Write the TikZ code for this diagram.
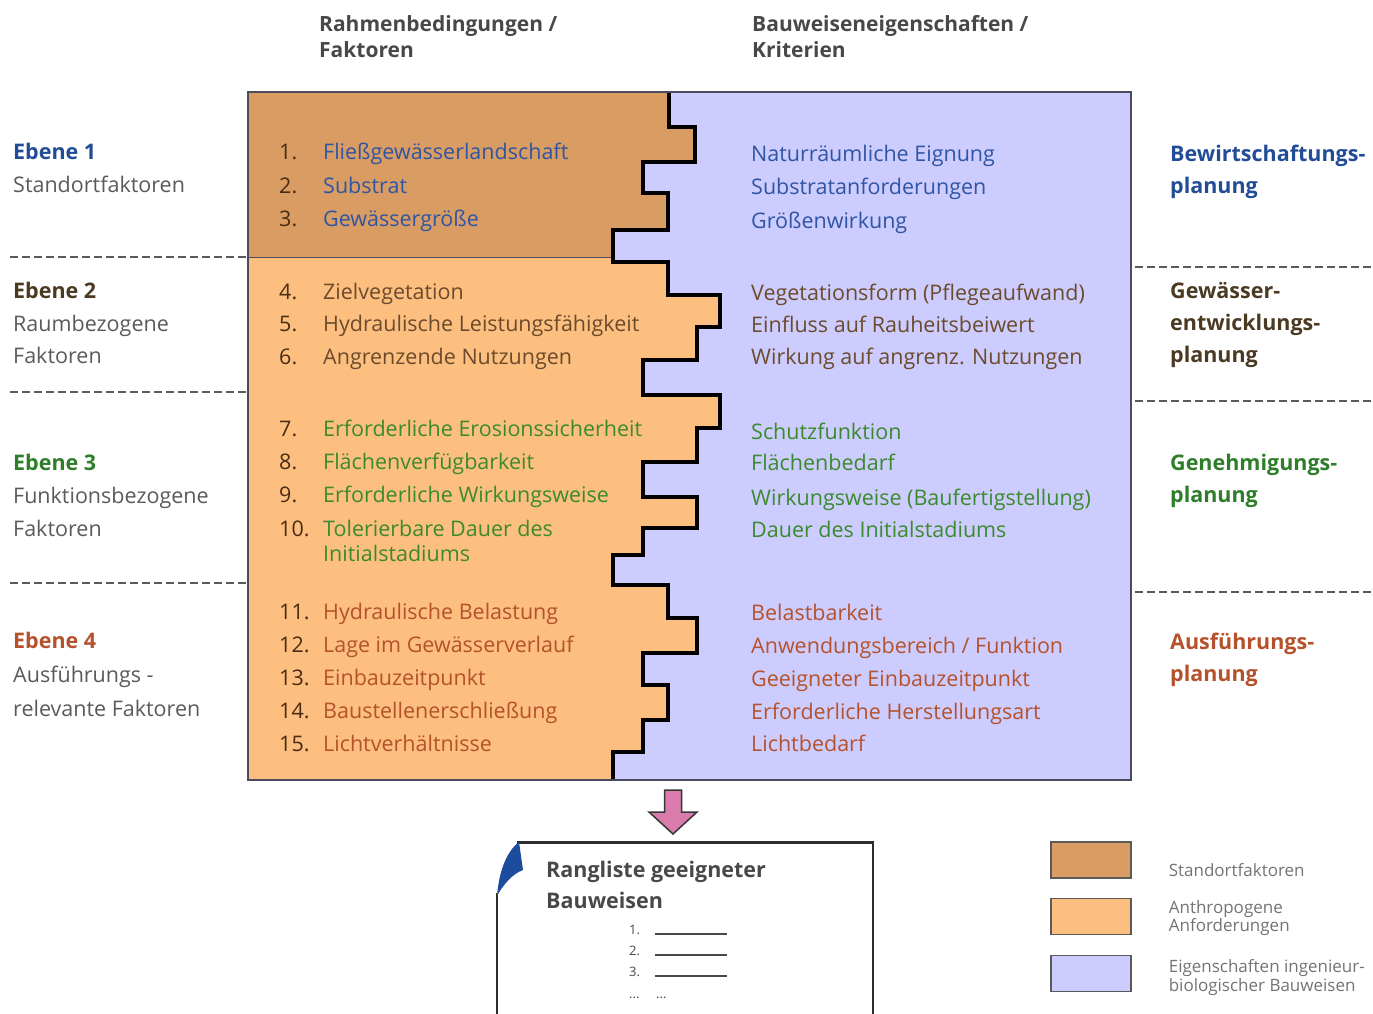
\documentclass[tikz,border=0pt]{standalone}
\usepackage{fontspec}
\setmainfont{Open Sans}
\usepackage{xcolor}
\usepackage{tikz}
\usetikzlibrary{arrows.meta, positioning, calc}
\definecolor{bauwblue}{HTML}{2F55A4}
\definecolor{bauwnavy}{HTML}{234C97}
\definecolor{bauwbrown}{HTML}{6B4B2C}
\definecolor{bauwdark}{HTML}{4A3A22}
\definecolor{bauwgreen}{HTML}{3B8A2C}
\definecolor{bauwforest}{HTML}{2E7D2A}
\definecolor{bauwred}{HTML}{B5522C}
\definecolor{bauwgray}{HTML}{5A5A5A}
\definecolor{bauwnum}{HTML}{4A2C12}
\definecolor{bauwtan}{HTML}{D99C62}
\definecolor{bauwpeach}{HTML}{FDBF7F}
\definecolor{bauwlav}{HTML}{CCCCFF}
\definecolor{bauwpink}{HTML}{D97CAB}
\definecolor{bauwcurl}{HTML}{1C4C9C}
\definecolor{bauwframe}{HTML}{4B4B5E}

\begin{document}
\begin{tikzpicture}[
    x=1pt, y=-1pt,
    txt/.style={anchor=base west, inner sep=0pt, font=\fontsize{21.5}{26}\selectfont},
    boldtxt/.style={txt, font=\fontsize{21.5}{26}\selectfont\bfseries},
    head/.style={txt, font=\fontsize{21}{26}\selectfont\bfseries, color=bauwgray!80!black},
    legbox/.style={draw=bauwgray, line width=1.2pt, minimum width=80pt, minimum height=36pt, inner sep=0pt},
    legtext/.style={font=\fontsize{17}{18.5}\selectfont, color=bauwgray!85, align=left, inner sep=0pt},
    sep/.style={bauwgray, line width=1.4pt, dash pattern=on 7.5pt off 4.5pt},
    stufe/.style={line width=4.5pt, line join=miter, black},
    listnr/.style={txt, font=\fontsize{13}{15}\selectfont, color=bauwgray!80!black},
  ]
  \useasboundingbox (0,0) rectangle (1373,1014);

  \node[head] (kopfL1) at (319,32) {Rahmenbedingungen /};
  \node[head] (kopfL2) at (319,58) {Faktoren};
  \node[head] (kopfR1) at (752,32) {Bauweiseneigenschaften /};
  \node[head] (kopfR2) at (752,58) {Kriterien};

  % Rahmen mit Stufenlinie
  \fill[bauwlav] (248,92) rectangle (1131,780);
  \fill[bauwpeach] (248,92) -- (669,92) |- (695,127) |- (643,162) |- (668,193) |- (613,230)
    |- (668,262) |- (720,295) |- (697,327) |- (643,360) |- (720,395) |- (697,428) |- (643,462)
    |- (697,497) |- (643,528) |- (613,555) |- (668,585) |- (697,618) |- (643,653) |- (668,685)
    |- (643,720) |- (613,752) -- (613,780) -- (248,780) -- cycle;
  \fill[bauwtan] (248,92) -- (669,92) |- (695,127) |- (643,162) |- (668,193) |- (613,230)
    -- (613,257) -- (248,257) -- cycle;
  \draw[bauwframe, line width=1pt] (248,257) -- (613,257);
  \draw[stufe] (669,92) |- (695,127) |- (643,162) |- (668,193) |- (613,230)
    |- (668,262) |- (720,295) |- (697,327) |- (643,360) |- (720,395) |- (697,428) |- (643,462)
    |- (697,497) |- (643,528) |- (613,555) |- (668,585) |- (697,618) |- (643,653) |- (668,685)
    |- (643,720) |- (613,752) -- (613,780);
  \draw[bauwframe, line width=2pt] (248,92) rectangle (1131,780);

  \foreach \y in {257,392,583} \draw[sep] (10,\y) -- (248,\y);
  \foreach \y in {267,401,592} \draw[sep] (1135,\y) -- (1373,\y);

  \foreach \y/\nr/\t/\c [count=\i] in {
      160/1./Fließgewässerlandschaft/bauwblue, 193/2./Substrat/bauwblue,
      226/3./Gewässergröße/bauwblue,
      299/4./Zielvegetation/bauwbrown, 331/5./Hydraulische Leistungsfähigkeit/bauwbrown,
      364/6./Angrenzende Nutzungen/bauwbrown,
      436/7./Erforderliche Erosionssicherheit/bauwgreen, 469/8./Flächenverfügbarkeit/bauwgreen,
      502/9./Erforderliche Wirkungsweise/bauwgreen, 536/10./Tolerierbare Dauer des/bauwgreen,
      561/{}/Initialstadiums/bauwgreen,
      619/11./Hydraulische Belastung/bauwred, 652/12./Lage im Gewässerverlauf/bauwred,
      685/13./Einbauzeitpunkt/bauwred, 718/14./Baustellenerschließung/bauwred,
      751/15./Lichtverhältnisse/bauwred}{
    \node[txt, bauwnum] (fnr\i) at (279,\y) {\nr};
    \node[txt, \c] (fak\i) at (323,\y) {\t};
  }

  \foreach \y/\t/\c [count=\i] in {
      161/Naturräumliche Eignung/bauwblue, 194/Substratanforderungen/bauwblue,
      228/Größenwirkung/bauwblue,
      300/Vegetationsform (Pflegeaufwand)/bauwbrown, 332/Einfluss auf Rauheitsbeiwert/bauwbrown,
      364/Wirkung auf angrenz. Nutzungen/bauwbrown,
      439/Schutzfunktion/bauwgreen, 470/Flächenbedarf/bauwgreen,
      505/Wirkungsweise (Baufertigstellung)/bauwgreen, 537/Dauer des Initialstadiums/bauwgreen,
      620/Belastbarkeit/bauwred, 653/{Anwendungsbereich / Funktion}/bauwred,
      686/Geeigneter Einbauzeitpunkt/bauwred, 719/Erforderliche Herstellungsart/bauwred,
      751/Lichtbedarf/bauwred}{
    \node[txt, \c] (krit\i) at (751,\y) {\t};
  }

  \node[boldtxt, bauwnavy] (ebene1) at (13,160) {Ebene 1};
  \node[txt, bauwgray] (ebene1a) at (13,192) {Standortfaktoren};
  \node[boldtxt, bauwdark] (ebene2) at (13,298) {Ebene 2};
  \node[txt, bauwgray] (ebene2a) at (13,331) {Raumbezogene};
  \node[txt, bauwgray] (ebene2b) at (13,363) {Faktoren};
  \node[boldtxt, bauwforest] (ebene3) at (13,470) {Ebene 3};
  \node[txt, bauwgray] (ebene3a) at (13,503) {Funktionsbezogene};
  \node[txt, bauwgray] (ebene3b) at (13,536) {Faktoren};
  \node[boldtxt, bauwred] (ebene4) at (13,648) {Ebene 4};
  \node[txt, bauwgray] (ebene4a) at (13,682) {Ausführungs -};
  \node[txt, bauwgray] (ebene4b) at (13,716) {relevante Faktoren};

  \node[boldtxt, bauwnavy] (plan1) at (1170,161) {Bewirtschaftungs-};
  \node[boldtxt, bauwnavy] (plan1a) at (1170,193) {planung};
  \node[boldtxt, bauwdark] (plan2) at (1170,298) {Gewässer-};
  \node[boldtxt, bauwdark] (plan2a) at (1170,330) {entwicklungs-};
  \node[boldtxt, bauwdark] (plan2b) at (1170,362) {planung};
  \node[boldtxt, bauwforest] (plan3) at (1170,470) {Genehmigungs-};
  \node[boldtxt, bauwforest] (plan3a) at (1170,502) {planung};
  \node[boldtxt, bauwred] (plan4) at (1170,649) {Ausführungs-};
  \node[boldtxt, bauwred] (plan4a) at (1170,681) {planung};

  \coordinate (pfeil) at (673,790);
  \draw[fill=bauwpink, draw=bauwgray!60!black, line width=1.5pt, line join=miter]
    ($(pfeil)+(-8.5,0)$) -- ++(17,0) -- ++(0,22) -- ++(15.5,0) -- ($(pfeil)+(0,44)$)
    -- ($(pfeil)+(-24,22)$) -- ++(15.5,0) -- cycle;

  % Ergebnisblatt
  \draw[bauwgray!50!black, line width=2pt] (497,893) -- (497,1030);
  \draw[bauwgray!50!black, line width=2pt] (873,842) -- (873,1030);
  \draw[bauwgray!50!black, line width=3pt] (517,842) -- (874,842);
  \fill[bauwcurl] (519,842) .. controls (506,852) and (499,872) .. (497,896)
    .. controls (503,885) and (512,874) .. (523,870) -- cycle;
  \node[boldtxt, bauwgray!80!black] (rang1) at (546,877) {Rangliste geeigneter};
  \node[boldtxt, bauwgray!80!black] (rang2) at (546,908) {Bauweisen};
  \foreach \n/\y in {1/934,2/955,3/976}{
    \node[listnr] (platz\n) at (629,\y) {\n.};
    \draw[bauwgray!80!black, line width=1.2pt] (655,\y) -- (727,\y);
  }
  \node[listnr] (platzx) at (629,998) {...};
  \node[listnr] (platzy) at (656,998) {...};

  \node[legbox, fill=bauwtan] (legA) at (1091,860) {};
  \node[legbox, fill=bauwpeach, below=19pt of legA] (legB) {};
  \node[legbox, fill=bauwlav, below=20pt of legB] (legC) {};
  \node[legtext, right=37pt of legA, yshift=-10pt] (legAtxt) {Standortfaktoren};
  \node[legtext, right=37pt of legB, yshift=-2pt] (legBtxt) {Anthropogene\\Anforderungen};
  \node[legtext, right=37pt of legC, yshift=-4pt] (legCtxt) {Eigenschaften ingenieur-\\biologischer Bauweisen};
\end{tikzpicture}
\end{document}
